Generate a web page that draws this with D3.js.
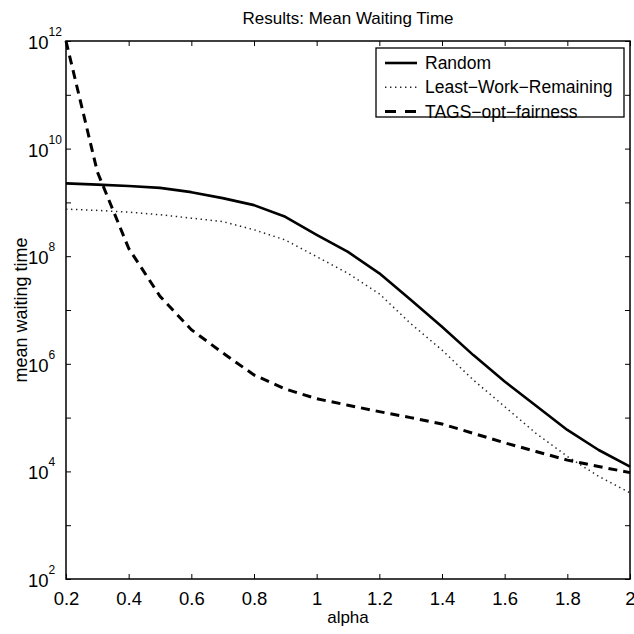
<!DOCTYPE html>
<html><head><meta charset="utf-8">
<script src="https://cdn.jsdelivr.net/npm/d3@7"></script>
<style>body{margin:0;background:#fff}svg{display:block}</style>
</head><body><svg id="c" width="634" height="634"></svg>
<script>
// ---- data ----
const alpha = [0.2,0.3,0.4,0.5,0.6,0.7,0.8,0.9,1.0,1.1,1.2,1.3,1.4,1.5,1.6,1.7,1.8,1.9,2.0];
const randomW = [2.26e9,2.14e9,2.02e9,1.86e9,1.55e9,1.20e9,8.9e8,5.4e8,2.5e8,1.2e8,4.8e7,1.55e7,4.9e6,1.45e6,4.7e5,1.66e5,5.9e4,2.5e4,1.23e4];
const lwrW = [7.5e8,7.1e8,6.6e8,5.9e8,5.1e8,4.4e8,3.1e8,2.0e8,9.8e7,4.8e7,2.0e7,5.6e6,1.8e6,5.0e5,1.6e5,5.1e4,1.9e4,8.1e3,4.0e3];
const tagsW = [1e12,3.7e9,1.4e8,1.8e7,4.3e6,1.6e6,6.2e5,3.4e5,2.24e5,1.7e5,1.29e5,1.0e5,7.6e4,5.1e4,3.4e4,2.35e4,1.62e4,1.23e4,9.5e3];
const seriesNames = ["Random","Least\u2212Work\u2212Remaining","TAGS\u2212opt\u2212fairness"];
const xTicks = [0.2,0.4,0.6,0.8,1.0,1.2,1.4,1.6,1.8,2.0];
const xTickLabels = ["0.2","0.4","0.6","0.8","1","1.2","1.4","1.6","1.8","2"];
const yTicks = [1e2,1e3,1e4,1e5,1e6,1e7,1e8,1e9,1e10,1e11,1e12];
const yLabelExps = [2,4,6,8,10,12];
const titleText = "Results: Mean Waiting Time";
const xLabelText = "alpha";
const yLabelText = "mean waiting time";

// ---- layout ----
const L = 66, R = 630, T = 41, B = 579;
const svg = d3.select("#c");
const FONT = "'Liberation Sans', Arial, Helvetica, sans-serif";
const x = d3.scaleLinear().domain([0.2, 2]).range([L, R]);
const y = d3.scaleLog().domain([1e2, 1e12]).range([B, T]);

// axes (ticks inward)
const tk = 5;
const gB = svg.append("g").attr("transform", `translate(0,${B})`)
  .call(d3.axisBottom(x).tickValues(xTicks).tickSize(-tk).tickPadding(13)
    .tickFormat((d, i) => xTickLabels[i]));
const gT = svg.append("g").attr("transform", `translate(0,${T})`)
  .call(d3.axisTop(x).tickValues(xTicks).tickSize(-tk).tickFormat(() => ""));
const gL = svg.append("g").attr("transform", `translate(${L},0)`)
  .call(d3.axisLeft(y).tickValues(yTicks).tickSize(-tk).tickFormat(() => ""));
const gR = svg.append("g").attr("transform", `translate(${R},0)`)
  .call(d3.axisRight(y).tickValues(yTicks).tickSize(-tk).tickFormat(() => ""));
[gB, gT, gL, gR].forEach(g => {
  g.select(".domain").remove();
  g.selectAll(".tick line").attr("stroke", "#000").attr("stroke-width", 1);
  g.selectAll("text").attr("font-family", FONT).attr("font-size", 18.5).attr("fill", "#000");
});
// box
svg.append("rect").attr("x", L).attr("y", T).attr("width", R - L).attr("height", B - T)
  .attr("fill", "none").attr("stroke", "#000").attr("stroke-width", 1.5);

// y tick labels 10^n
yLabelExps.forEach(e => {
  const t = svg.append("text").attr("x", 28).attr("y", y(Math.pow(10, e)) + 8)
    .attr("font-family", FONT).attr("font-size", 18.5).attr("fill", "#000");
  t.append("tspan").text("10");
  t.append("tspan").attr("dy", -13).attr("font-size", 12).text(String(e));
});

// lines
const line = d3.line().x((d, i) => x(alpha[i])).y(d => y(d));
svg.append("path").datum(randomW).attr("d", line).attr("fill", "none")
  .attr("stroke", "#000").attr("stroke-width", 2.6).attr("stroke-linejoin", "round");
svg.append("path").datum(lwrW).attr("d", line).attr("fill", "none")
  .attr("stroke", "#222").attr("stroke-width", 1.5).attr("stroke-dasharray", "1.4,3.6");
svg.append("path").datum(tagsW).attr("d", line).attr("fill", "none")
  .attr("stroke", "#000").attr("stroke-width", 3).attr("stroke-dasharray", "9,6");

// title & labels
svg.append("text").attr("x", (L + R) / 2).attr("y", 24).attr("text-anchor", "middle")
  .attr("font-family", FONT).attr("font-size", 17).text(titleText);
svg.append("text").attr("x", (L + R) / 2).attr("y", 623).attr("text-anchor", "middle")
  .attr("font-family", FONT).attr("font-size", 17).text(xLabelText);
svg.append("text").attr("transform", `translate(27,${(T + B) / 2}) rotate(-90)`)
  .attr("text-anchor", "middle").attr("font-family", FONT).attr("font-size", 18).text(yLabelText);

// legend
const lg = svg.append("g");
lg.append("rect").attr("x", 376).attr("y", 48).attr("width", 248).attr("height", 69)
  .attr("fill", "#fff").attr("stroke", "#000").attr("stroke-width", 1.3);
const styles = [
  {w: 2.6, c: "#000", d: null},
  {w: 1.5, c: "#222", d: "1.4,3.6"},
  {w: 3, c: "#000", d: "11,9"}
];
seriesNames.forEach((n, i) => {
  const cy = 63 + i * 24.3;
  lg.append("line").attr("x1", 385).attr("x2", 417).attr("y1", cy).attr("y2", cy)
    .attr("stroke", styles[i].c).attr("stroke-width", styles[i].w)
    .attr("stroke-dasharray", styles[i].d);
  lg.append("text").attr("x", 425).attr("y", cy + 6).attr("font-family", FONT)
    .attr("font-size", 17.5).text(n);
});
</script></body></html>
